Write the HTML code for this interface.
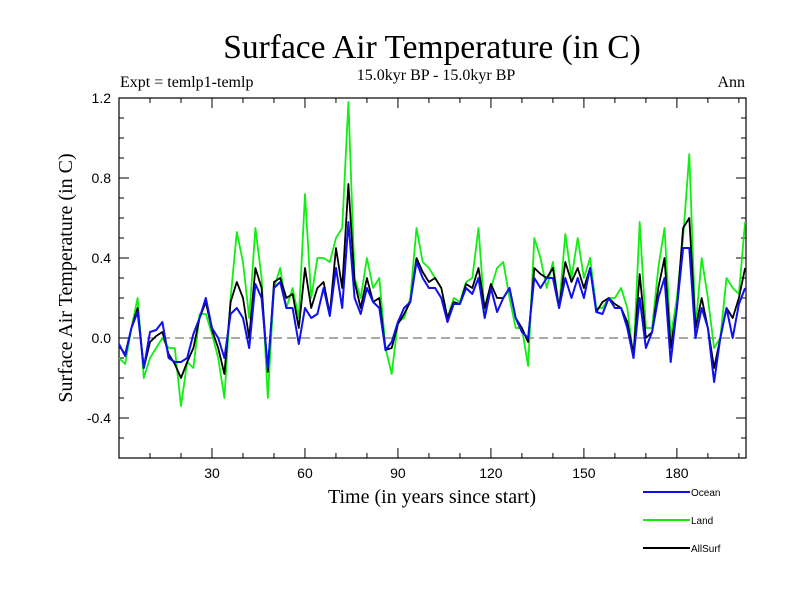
<!DOCTYPE html>
<html><head><meta charset="utf-8"><style>
body{margin:0;background:#fff}
svg{display:block}
</style></head><body>
<svg id="chart" width="800" height="600" xmlns="http://www.w3.org/2000/svg">
<text x="432" y="58" text-anchor="middle" font-family="Liberation Serif, serif" font-size="33.5">Surface Air Temperature (in C)</text>
<text x="120" y="87" font-family="Liberation Serif, serif" font-size="16">Expt = temlp1-temlp</text>
<text x="436" y="80" text-anchor="middle" font-family="Liberation Serif, serif" font-size="16">15.0kyr BP - 15.0kyr BP</text>
<text x="745" y="87" text-anchor="end" font-family="Liberation Serif, serif" font-size="16">Ann</text>
<text transform="translate(72,278) rotate(-90)" text-anchor="middle" font-family="Liberation Serif, serif" font-size="20">Surface Air Temperature (in C)</text>
<text x="432" y="503" text-anchor="middle" font-family="Liberation Serif, serif" font-size="20">Time (in years since start)</text>
<g id="axes"></g>
<g id="series"></g>
<g id="legend"></g>
</svg>
<script>
const years = [];
for (let t = 0; t <= 202; t += 2) years.push(t);
const ocean = [-0.03,-0.09,0.05,0.13,-0.15,0.03,0.04,0.08,-0.1,-0.12,-0.12,-0.1,0.02,0.1,0.2,0.05,0.0,-0.1,0.12,0.15,0.1,-0.05,0.27,0.2,-0.15,0.25,
0.28,0.15,0.15,-0.03,0.15,0.1,0.12,0.25,0.11,0.35,0.15,0.58,0.2,0.12,0.25,0.18,0.15,-0.06,-0.02,0.08,0.15,0.18,0.38,0.3,0.25,
0.25,0.2,0.08,0.17,0.17,0.25,0.22,0.3,0.1,0.25,0.13,0.2,0.25,0.1,0.03,0.0,0.3,0.25,0.3,0.3,0.15,0.3,0.2,0.3,0.2,
0.35,0.13,0.12,0.2,0.15,0.15,0.05,-0.1,0.2,-0.05,0.03,0.2,0.3,-0.12,0.15,0.45,0.45,0.0,0.15,0.05,-0.22,0.0,0.15,0.0,0.17,0.25];
const land = [-0.1,-0.13,0.05,0.2,-0.2,-0.1,-0.05,0.0,-0.05,-0.05,-0.34,-0.12,-0.15,0.12,0.12,0.02,-0.1,-0.3,0.2,0.53,0.38,0.1,0.55,0.3,-0.3,0.25,
0.35,0.15,0.25,0.1,0.72,0.2,0.4,0.4,0.38,0.5,0.55,1.18,0.3,0.2,0.4,0.25,0.3,-0.05,-0.18,0.08,0.1,0.2,0.55,0.38,0.35,
0.3,0.25,0.1,0.2,0.18,0.28,0.3,0.55,0.12,0.25,0.35,0.38,0.2,0.05,0.05,-0.14,0.5,0.4,0.25,0.38,0.15,0.52,0.3,0.5,0.3,
0.4,0.15,0.15,0.2,0.2,0.25,0.15,-0.1,0.58,0.05,0.05,0.35,0.55,0.0,0.2,0.5,0.92,0.05,0.4,0.2,-0.05,0.0,0.3,0.25,0.22,0.58];
const allsurf = [-0.04,-0.08,0.05,0.15,-0.15,-0.02,0.01,0.03,-0.08,-0.13,-0.2,-0.12,-0.05,0.1,0.18,0.04,-0.05,-0.18,0.18,0.28,0.2,0.0,0.35,0.25,-0.17,0.28,
0.3,0.2,0.22,0.05,0.35,0.15,0.25,0.28,0.12,0.45,0.25,0.77,0.28,0.15,0.3,0.18,0.2,-0.06,-0.05,0.07,0.12,0.18,0.4,0.33,0.28,
0.3,0.25,0.1,0.18,0.17,0.27,0.25,0.35,0.15,0.27,0.2,0.2,0.25,0.1,0.05,-0.02,0.35,0.32,0.3,0.35,0.15,0.38,0.28,0.35,0.25,
0.35,0.13,0.18,0.2,0.17,0.15,0.08,-0.08,0.32,0.0,0.03,0.25,0.4,-0.05,0.15,0.55,0.6,0.05,0.2,0.05,-0.15,0.0,0.15,0.1,0.2,0.35];
const yTicks = [-0.4, 0.0, 0.4, 0.8, 1.2];
const yTickLabels = ["-0.4","0.0","0.4","0.8","1.2"];
const xTicks = [30, 60, 90, 120, 150, 180];
const xTickLabels = ["30","60","90","120","150","180"];

const L=119,R=746,T=98,B=458,xmin=0,xmax=202.3,ymin=-0.6,ymax=1.2;
const sx=v=>L+(v-xmin)/(xmax-xmin)*(R-L);
const sy=v=>B-(v-ymin)/(ymax-ymin)*(B-T);
const NS="http://www.w3.org/2000/svg";
function mk(tag,attrs,parent){const e=document.createElementNS(NS,tag);for(const k in attrs)e.setAttribute(k,attrs[k]);parent.appendChild(e);return e;}
const axes=document.getElementById('axes');
const frame=mk('rect',{x:L,y:T,width:R-L,height:B-T,fill:'none',stroke:'#000','stroke-width':1.2},axes);


const zl=mk('line',{x1:L,x2:R,y1:sy(0),y2:sy(0),stroke:'#555','stroke-dasharray':'9,5','stroke-width':1},axes);


for(let v=-0.6;v<=1.2001;v+=0.1){
  const y=sy(v);const major=Math.abs(Math.round(v*10)%4)===0;const len=major?10:5;
  mk('line',{x1:L,x2:L+len,y1:y,y2:y,stroke:'#000'},axes);
  mk('line',{x1:R,x2:R-len,y1:y,y2:y,stroke:'#000'},axes);
}
for(let t=10;t<=200;t+=10){
  const x=sx(t);const len=(t%30===0)?10:5;
  mk('line',{x1:x,x2:x,y1:B,y2:B-len,stroke:'#000'},axes);
  mk('line',{x1:x,x2:x,y1:T,y2:T+len,stroke:'#000'},axes);
}
yTicks.forEach((v,i)=>{
  const t=mk('text',{x:L-8,y:sy(v)+5,'text-anchor':'end','font-family':'Liberation Sans, sans-serif','font-size':14},axes);
  t.textContent=yTickLabels[i];
  
  
});
xTicks.forEach((v,i)=>{
  const t=mk('text',{x:sx(v),y:B+20,'text-anchor':'middle','font-family':'Liberation Sans, sans-serif','font-size':14},axes);
  t.textContent=xTickLabels[i];
  
  
});
const series=document.getElementById('series');
function draw(vals,color,w,name){
  const d=vals.map((v,i)=>(i?'L':'M')+sx(years[i]).toFixed(1)+','+sy(v).toFixed(1)).join('');
  const p=mk('path',{d:d,fill:'none',stroke:color,'stroke-width':w,'stroke-linejoin':'round'},series);
  
  
}
draw(land,'#11ee11',1.8,'land-line');
draw(allsurf,'#000',1.8,'allsurf-line');
draw(ocean,'#1010ee',2,'ocean-line');
const legend=document.getElementById('legend');
[['Ocean','#1010ee',492],['Land','#11ee11',520],['AllSurf','#000',548]].forEach(([lab,c,y])=>{
  const g=mk('g',{},legend);
  
  
  mk('line',{x1:643,x2:690,y1:y,y2:y,stroke:c,'stroke-width':2},g);
  const t=mk('text',{x:691,y:y+4,'font-family':'Liberation Sans, sans-serif','font-size':10},g);
  t.textContent=lab;
});
</script>
</body></html>
